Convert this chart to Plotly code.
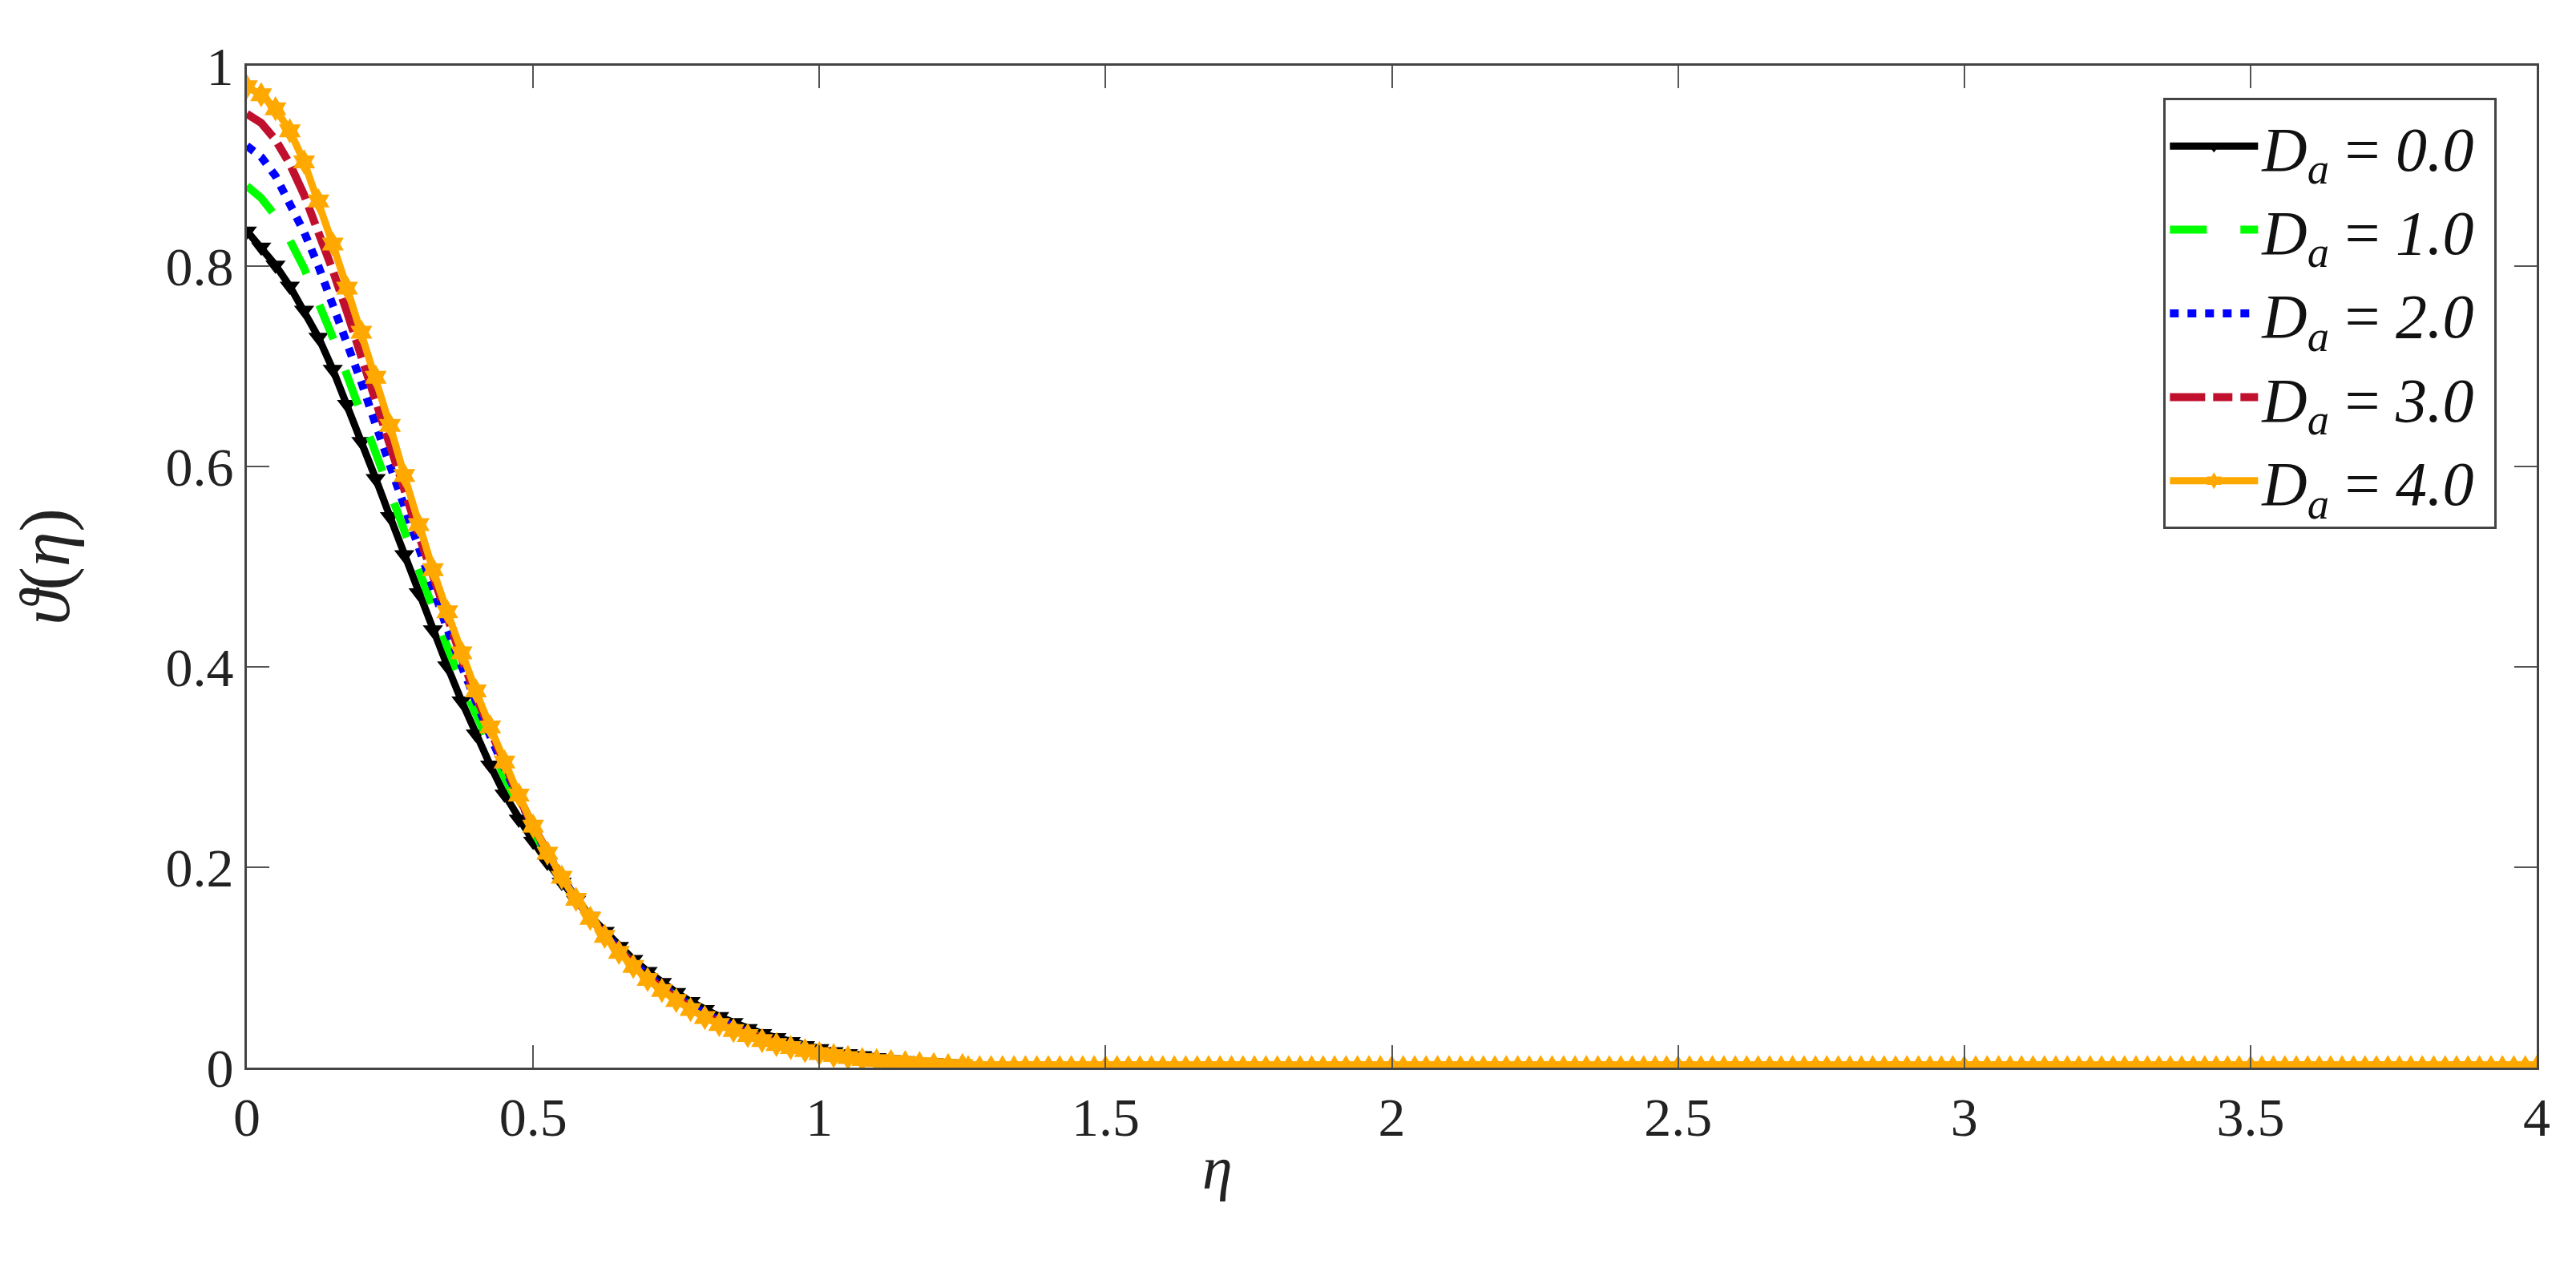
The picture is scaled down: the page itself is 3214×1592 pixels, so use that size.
import plotly.graph_objects as go

# eta grid for the boundary-layer region (step 0.025)
eta_front = [round(0.025 * i, 3) for i in range(51)]

theta_da0 = [0.835, 0.819, 0.801, 0.780, 0.756, 0.729, 0.697, 0.662, 0.625, 0.588,
             0.550, 0.512, 0.474, 0.437, 0.401, 0.366, 0.333, 0.302, 0.273, 0.248,
             0.226, 0.205, 0.185, 0.167, 0.151, 0.136, 0.121, 0.108, 0.096, 0.085,
             0.075, 0.066, 0.058, 0.051, 0.045, 0.039, 0.034, 0.030, 0.026, 0.022,
             0.019, 0.016, 0.014, 0.012, 0.010, 0.008, 0.007, 0.006, 0.005, 0.004, 0.003]
theta_da1 = [0.880, 0.868, 0.850, 0.826, 0.798, 0.765, 0.729, 0.691, 0.652, 0.612,
             0.572, 0.533, 0.494, 0.456, 0.420, 0.385, 0.352, 0.320, 0.290, 0.262,
             0.236, 0.211, 0.189, 0.168, 0.150, 0.133, 0.118, 0.104, 0.092, 0.081,
             0.071, 0.062, 0.054, 0.047, 0.041, 0.035, 0.030, 0.026, 0.022, 0.019,
             0.016, 0.013, 0.011, 0.009, 0.008, 0.006, 0.005, 0.004, 0.003, 0.003, 0.002]
theta_da2 = [0.920, 0.909, 0.890, 0.864, 0.834, 0.800, 0.763, 0.724, 0.684, 0.642,
             0.600, 0.558, 0.517, 0.477, 0.438, 0.401, 0.365, 0.331, 0.299, 0.268,
             0.240, 0.214, 0.190, 0.168, 0.150, 0.133, 0.118, 0.104, 0.092, 0.081,
             0.071, 0.062, 0.054, 0.047, 0.041, 0.035, 0.030, 0.026, 0.022, 0.019,
             0.016, 0.013, 0.011, 0.009, 0.008, 0.006, 0.005, 0.004, 0.003, 0.003, 0.002]
theta_da3 = [0.952, 0.943, 0.926, 0.902, 0.871, 0.835, 0.796, 0.754, 0.711, 0.667,
             0.622, 0.577, 0.532, 0.489, 0.448, 0.409, 0.371, 0.336, 0.302, 0.270,
             0.241, 0.214, 0.190, 0.168, 0.149, 0.132, 0.117, 0.103, 0.090, 0.079,
             0.069, 0.060, 0.052, 0.045, 0.039, 0.034, 0.029, 0.025, 0.021, 0.018,
             0.015, 0.013, 0.011, 0.009, 0.007, 0.006, 0.005, 0.004, 0.003, 0.002, 0.002]
theta_da4 = [0.979, 0.971, 0.957, 0.935, 0.904, 0.865, 0.822, 0.778, 0.734, 0.689,
             0.641, 0.591, 0.542, 0.497, 0.455, 0.414, 0.376, 0.340, 0.305, 0.272,
             0.241, 0.214, 0.190, 0.168, 0.149, 0.131, 0.115, 0.101, 0.088, 0.077,
             0.067, 0.058, 0.050, 0.043, 0.037, 0.032, 0.027, 0.023, 0.020, 0.017,
             0.014, 0.012, 0.010, 0.008, 0.007, 0.006, 0.005, 0.004, 0.003, 0.002, 0.002]

# far-field tails (profiles have decayed to zero)
eta_tail_da0 = [round(1.30 + 0.05 * i, 3) for i in range(55)]
theta_tail_da0 = [0.0] * len(eta_tail_da0)
eta_tail_da4 = [round(1.26 + 0.02 * i, 3) for i in range(138)]
theta_tail_da4 = [0.0] * len(eta_tail_da4)
eta_tail_mid = [1.5, 2.0, 2.5, 3.0, 3.5, 4.0]
theta_tail_mid = [0.0, 0.0, 0.0, 0.0, 0.0, 0.0]

labels = ["0.0", "1.0", "2.0", "3.0", "4.0"]
x_ticks = [0, 0.5, 1, 1.5, 2, 2.5, 3, 3.5, 4]
x_tick_text = ["0", "0.5", "1", "1.5", "2", "2.5", "3", "3.5", "4"]
y_ticks = [0, 0.2, 0.4, 0.6, 0.8, 1]
y_tick_text = ["0", "0.2", "0.4", "0.6", "0.8", "1"]

SERIF = "Liberation Serif, Times New Roman, serif"

fig = go.Figure()

def name(v):
    return "<i>D<sub>a</sub></i> = <i>" + v + "</i>\u00a0"

fig.add_trace(go.Scatter(
    x=eta_front + eta_tail_da0, y=theta_da0 + theta_tail_da0, name=name(labels[0]),
    mode="lines+markers", line=dict(color="#000000", width=9),
    marker=dict(symbol="triangle-down", size=22, color="#000000")))
fig.add_trace(go.Scatter(
    x=eta_front + eta_tail_mid, y=theta_da1 + theta_tail_mid, name=name(labels[1]),
    mode="lines", line=dict(color="#00FF00", width=10, dash="46px,42px")))
fig.add_trace(go.Scatter(
    x=eta_front + eta_tail_mid, y=theta_da2 + theta_tail_mid, name=name(labels[2]),
    mode="lines", line=dict(color="#0000FF", width=10, dash="11px,11px")))
fig.add_trace(go.Scatter(
    x=eta_front + eta_tail_mid, y=theta_da3 + theta_tail_mid, name=name(labels[3]),
    mode="lines", line=dict(color="#C0102E", width=10, dash="44px,10px,24px,10px")))
fig.add_trace(go.Scatter(
    x=eta_front + eta_tail_da4, y=theta_da4 + theta_tail_da4, name=name(labels[4]),
    mode="lines+markers", line=dict(color="#FFA800", width=9),
    marker=dict(symbol="hexagram", size=24, color="#FFA800")))

axis_common = dict(
    showline=True, linecolor="#444444", linewidth=3, mirror="ticks",
    ticks="inside", ticklen=28, tickwidth=2, tickcolor="#555555",
    showgrid=False, zeroline=False,
    tickfont=dict(family=SERIF, size=68, color="#222222"),
)

fig.update_xaxes(range=[0, 4], tickvals=x_ticks, ticktext=x_tick_text, **axis_common)
fig.update_yaxes(range=[0, 1], tickvals=y_ticks, ticktext=y_tick_text,
                 title=dict(text="<i>ϑ</i>(<i>η</i>)", font=dict(family=SERIF, size=88, color="#222222"),
                            standoff=105),
                 **axis_common)

fig.add_annotation(text="<i>η</i>", xref="paper", yref="paper", x=0.424, y=-0.1,
                   xanchor="center", yanchor="middle", showarrow=False,
                   font=dict(family=SERIF, size=76, color="#222222"))

fig.update_layout(
    width=3214, height=1592,
    margin=dict(l=300, r=57, t=74, b=268),
    paper_bgcolor="white", plot_bgcolor="white",
    showlegend=True,
    legend=dict(x=0.837, y=0.968, xanchor="left", yanchor="top",
                bgcolor="white", bordercolor="#444444", borderwidth=3,
                font=dict(family=SERIF, size=78, color="#111111"),
                itemwidth=110, tracegroupgap=0),
)

fig.write_html("out.html")
